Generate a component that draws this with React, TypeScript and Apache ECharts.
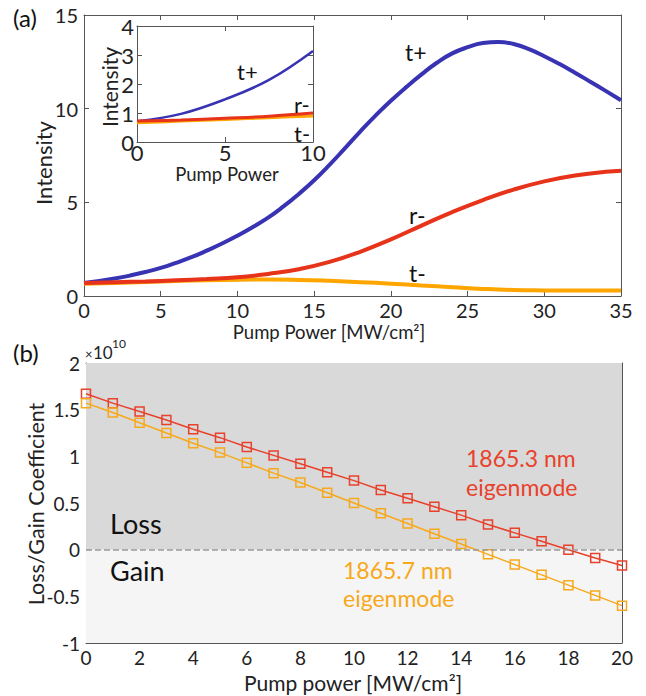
import React, { useEffect, useRef } from 'react';
import * as echarts from 'echarts';

const FONT = 'Lato, "Noto Sans", sans-serif';

// Panel (a): main
const tPlusX = [0, 1, 2, 3, 4, 5, 6, 7, 8, 9, 10, 11, 12, 13, 14, 15, 16, 17, 18, 19, 20, 21, 22, 23, 24, 25, 26, 27, 28, 29, 30, 31, 32, 33, 34, 35];
const tPlus = [0.7, 0.8, 0.93, 1.09, 1.28, 1.5, 1.77, 2.07, 2.42, 2.8, 3.22, 3.68, 4.18, 4.78, 5.45, 6.18, 7.0, 7.88, 8.78, 9.63, 10.42, 11.15, 11.83, 12.45, 12.95, 13.28, 13.5, 13.56, 13.45, 13.18, 12.8, 12.38, 11.92, 11.44, 10.95, 10.45];
const rMinusX = [0, 2, 4, 6, 8, 10, 12, 14, 16, 18, 20, 22, 24, 26, 28, 30, 32, 34, 35];
const rMinus = [0.7, 0.74, 0.78, 0.84, 0.91, 1.0, 1.18, 1.43, 1.82, 2.36, 3.02, 3.76, 4.48, 5.12, 5.68, 6.12, 6.43, 6.63, 6.69];
const tMinusX = [0, 2, 4, 6, 8, 10, 12, 14, 16, 18, 20, 22, 24, 26, 28, 30, 32, 34, 35];
const tMinus = [0.65, 0.7, 0.75, 0.8, 0.84, 0.87, 0.88, 0.86, 0.81, 0.74, 0.66, 0.56, 0.47, 0.38, 0.32, 0.3, 0.29, 0.29, 0.29];

// Panel (a): inset
const insetX = [0, 2.5, 5, 7.5, 10];
const insetTPlus = [0.72, 0.97, 1.47, 2.14, 3.14];
const insetRMinus = [0.72, 0.76, 0.82, 0.89, 1.0];
const insetTMinus = [0.66, 0.72, 0.78, 0.84, 0.9];

// Panel (b)
const pumpX = [0, 1, 2, 3, 4, 5, 6, 7, 8, 9, 10, 11, 12, 13, 14, 15, 16, 17, 18, 19, 20];
const mode3 = [1.67, 1.57, 1.48, 1.39, 1.29, 1.2, 1.1, 1.01, 0.92, 0.83, 0.74, 0.64, 0.55, 0.46, 0.37, 0.27, 0.18, 0.09, 0.0, -0.09, -0.17];
const mode7 = [1.57, 1.47, 1.36, 1.25, 1.14, 1.04, 0.93, 0.82, 0.72, 0.61, 0.5, 0.39, 0.28, 0.17, 0.06, -0.05, -0.16, -0.27, -0.38, -0.49, -0.6];

const BLUE = '#3833b3';
const RED = '#e6331a';
const ORANGE = '#ffa500';
const RED_B = '#e8412c';
const ORANGE_B = '#f7a81b';
const AXIS = '#555';

const zip = (xs: number[], ys: number[]) => xs.map((x, i) => [x, ys[i]]);

function axis(gridIndex: number, position: string, min: number, max: number, interval: number, labels: boolean, fontSize: number, margin: number) {
  return {
    type: 'value',
    gridIndex,
    position,
    min,
    max,
    interval,
    axisLine: { show: true, onZero: false, lineStyle: { color: AXIS, width: 1 } },
    axisTick: { show: true, inside: true, length: 5, lineStyle: { color: AXIS } },
    axisLabel: { show: labels, fontSize, fontFamily: FONT, color: '#222', margin },
    splitLine: { show: false },
  };
}

function txt(text: string, x: number, y: number, fontSize: number, fill = '#111', align = 'left', rotation = 0) {
  return {
    type: 'text',
    x,
    y,
    rotation,
    z: 100,
    style: {
      text,
      fontSize,
      fontFamily: FONT,
      fill,
      textAlign: align,
      textVerticalAlign: 'middle',
      align,
      verticalAlign: 'middle',
    },
  };
}

const option = {
  animation: false,
  backgroundColor: '#fff',
  grid: [
    { left: 84, top: 15, width: 537, height: 281 },
    { left: 137, top: 26, width: 176, height: 116, show: true, backgroundColor: '#fff', borderWidth: 0, z: 5 },
    { left: 86, top: 363, width: 536, height: 280 },
  ],
  xAxis: [
    axis(0, 'bottom', 0, 35, 5, true, 20, 4),
    axis(0, 'top', 0, 35, 5, false, 20, 4),
    { ...axis(1, 'bottom', 0, 10, 5, true, 22, -1), z: 6 },
    { ...axis(1, 'top', 0, 10, 5, false, 22, -1), z: 6 },
    axis(2, 'bottom', 0, 20, 2, true, 19, 5),
    axis(2, 'top', 0, 20, 2, false, 19, 5),
  ],
  yAxis: [
    axis(0, 'left', 0, 15, 5, true, 20, 6),
    axis(0, 'right', 0, 15, 5, false, 20, 6),
    { ...axis(1, 'left', 0, 4, 1, true, 22, 3), z: 6 },
    { ...axis(1, 'right', 0, 4, 1, false, 22, 3), z: 6 },
    axis(2, 'left', -1, 2, 0.5, true, 19, 6),
    axis(2, 'right', -1, 2, 0.5, false, 19, 6),
  ],
  series: [
    { type: 'line', xAxisIndex: 0, yAxisIndex: 0, data: zip(tPlusX, tPlus), smooth: 0.5, symbol: 'none', lineStyle: { color: BLUE, width: 4 } },
    { type: 'line', xAxisIndex: 0, yAxisIndex: 0, data: zip(tMinusX, tMinus), smooth: 0.5, symbol: 'none', lineStyle: { color: ORANGE, width: 4 } },
    { type: 'line', xAxisIndex: 0, yAxisIndex: 0, data: zip(rMinusX, rMinus), smooth: 0.5, symbol: 'none', lineStyle: { color: RED, width: 4 } },
    { type: 'line', xAxisIndex: 2, yAxisIndex: 2, z: 7, data: zip(insetX, insetTPlus), smooth: 0.4, symbol: 'none', lineStyle: { color: BLUE, width: 2.5 } },
    { type: 'line', xAxisIndex: 2, yAxisIndex: 2, z: 7, data: zip(insetX, insetTMinus), smooth: 0.4, symbol: 'none', lineStyle: { color: ORANGE, width: 3 } },
    { type: 'line', xAxisIndex: 2, yAxisIndex: 2, z: 7, data: zip(insetX, insetRMinus), smooth: 0.4, symbol: 'none', lineStyle: { color: RED, width: 3 } },
    {
      type: 'line', xAxisIndex: 4, yAxisIndex: 4, data: zip(pumpX, mode3), clip: false,
      symbol: 'rect', symbolSize: 9,
      lineStyle: { color: RED_B, width: 1.5 },
      itemStyle: { color: 'rgba(0,0,0,0)', borderColor: RED_B, borderWidth: 1.5 },
      markArea: {
        silent: true,
        data: [
          [{ yAxis: 0, itemStyle: { color: '#d9d9d9' } }, { yAxis: 2 }],
          [{ yAxis: -1, itemStyle: { color: '#f5f5f5' } }, { yAxis: 0 }],
        ],
      },
      markLine: {
        silent: true,
        symbol: 'none',
        label: { show: false },
        lineStyle: { type: 'dashed', color: '#999', width: 1.5 },
        data: [{ yAxis: 0 }],
      },
    },
    {
      type: 'line', xAxisIndex: 4, yAxisIndex: 4, data: zip(pumpX, mode7), clip: false,
      symbol: 'rect', symbolSize: 9,
      lineStyle: { color: ORANGE_B, width: 1.5 },
      itemStyle: { color: 'rgba(0,0,0,0)', borderColor: ORANGE_B, borderWidth: 1.5 },
    },
  ],
  graphic: [
    txt('(a)', 13, 17, 24),
    txt('(b)', 13, 352, 24),
    txt('Intensity', 43, 163, 22, '#222', 'center', Math.PI / 2),
    txt('Pump Power [MW/cm²]', 329, 332, 18.5, '#222', 'center'),
    txt('Intensity', 109, 87, 21, '#222', 'center', Math.PI / 2),
    txt('Pump Power', 227, 174, 18.5, '#222', 'center'),
    txt('t+', 405, 52, 23),
    txt('r-', 409, 215, 23),
    txt('t-', 409, 273, 23),
    txt('t+', 237, 71, 22),
    txt('r-', 294, 104, 22),
    txt('t-', 294, 133, 22),
    txt('Loss/Gain Coefficient', 36, 504, 21.5, '#222', 'center', Math.PI / 2),
    txt('Pump power [MW/cm²]', 353, 682, 21, '#222', 'center'),
    txt('×', 85, 354, 13, '#222'),
    txt('10', 93, 352, 17, '#222'),
    txt('10', 112, 343, 12, '#222'),
    txt('Loss', 110, 523, 27),
    txt('Gain', 110, 570, 27),
    txt('1865.3 nm', 466, 458, 23, RED_B),
    txt('eigenmode', 466, 487, 23, RED_B),
    txt('1865.7 nm', 343, 570, 23, ORANGE_B),
    txt('eigenmode', 343, 598, 23, ORANGE_B),
  ],
};

export default function App() {
  const ref = useRef<HTMLDivElement>(null);
  useEffect(() => {
    const chart = echarts.init(ref.current!, null, { renderer: 'svg' });
    chart.setOption(option as any);
    return () => chart.dispose();
  }, []);
  return <div ref={ref} style={{ position: 'absolute', left: 0, top: 0, width: 646, height: 696 }} />;
}
